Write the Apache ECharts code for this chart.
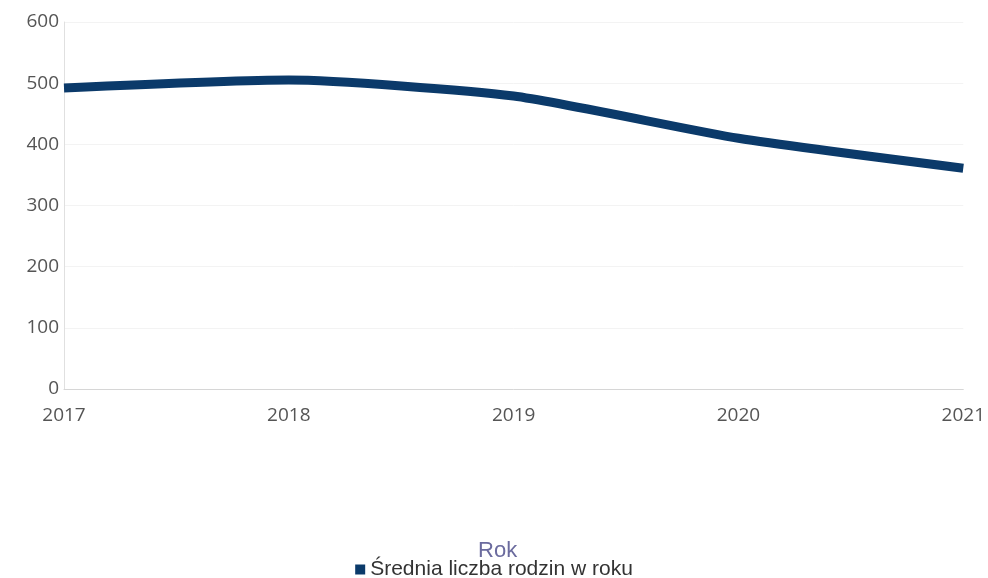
<!DOCTYPE html>
<html><head><meta charset="utf-8">
<script src="https://cdn.jsdelivr.net/npm/echarts@6/dist/echarts.min.js"></script>
<style>html,body{margin:0;padding:0;background:#fff}#c{width:988px;height:578px}</style>
</head><body><div id="c"></div>
<script>
const categories = ['2017','2018','2019','2020','2021'];
const values = [492, 505, 479, 410, 361];
const seriesName = 'Średnia liczba rodzin w roku';
const chart = echarts.init(document.getElementById('c'));
chart.setOption({
  animation:false,
  grid:{left:64,right:23,top:22,bottom:189,containLabel:false},
  legend:{bottom:-7,left:'center',icon:'rect',itemWidth:10,itemHeight:10,itemGap:10,
    textStyle:{fontFamily:'Liberation Sans, Arial',fontSize:21,color:'#333'},data:[seriesName]},
  xAxis:{type:'category',data:categories,boundaryGap:false,
    name:'Rok',nameLocation:'middle',nameGap:151,
    nameTextStyle:{fontFamily:'Liberation Sans, Arial',fontSize:22,color:'#6b6b9e',padding:[0,32,0,0]},
    axisLine:{lineStyle:{color:'#d6d6d6',width:1}},axisTick:{show:false},
    axisLabel:{fontFamily:'Open Sans',fontSize:19,color:'#555',margin:17}},
  yAxis:{type:'value',min:0,max:600,interval:100,
    axisLine:{show:true,lineStyle:{color:'#e0e0e0'}},axisTick:{show:false},
    splitLine:{lineStyle:{color:'#f3f3f3'}},
    axisLabel:{fontFamily:'Open Sans',fontSize:19,color:'#555',margin:5}},
  series:[{name:seriesName,type:'line',data:values,smooth:0.2,symbol:'none',
    lineStyle:{width:9,color:'#0b3a6a'},itemStyle:{color:'#0b3a6a'}}]
});
</script></body></html>
